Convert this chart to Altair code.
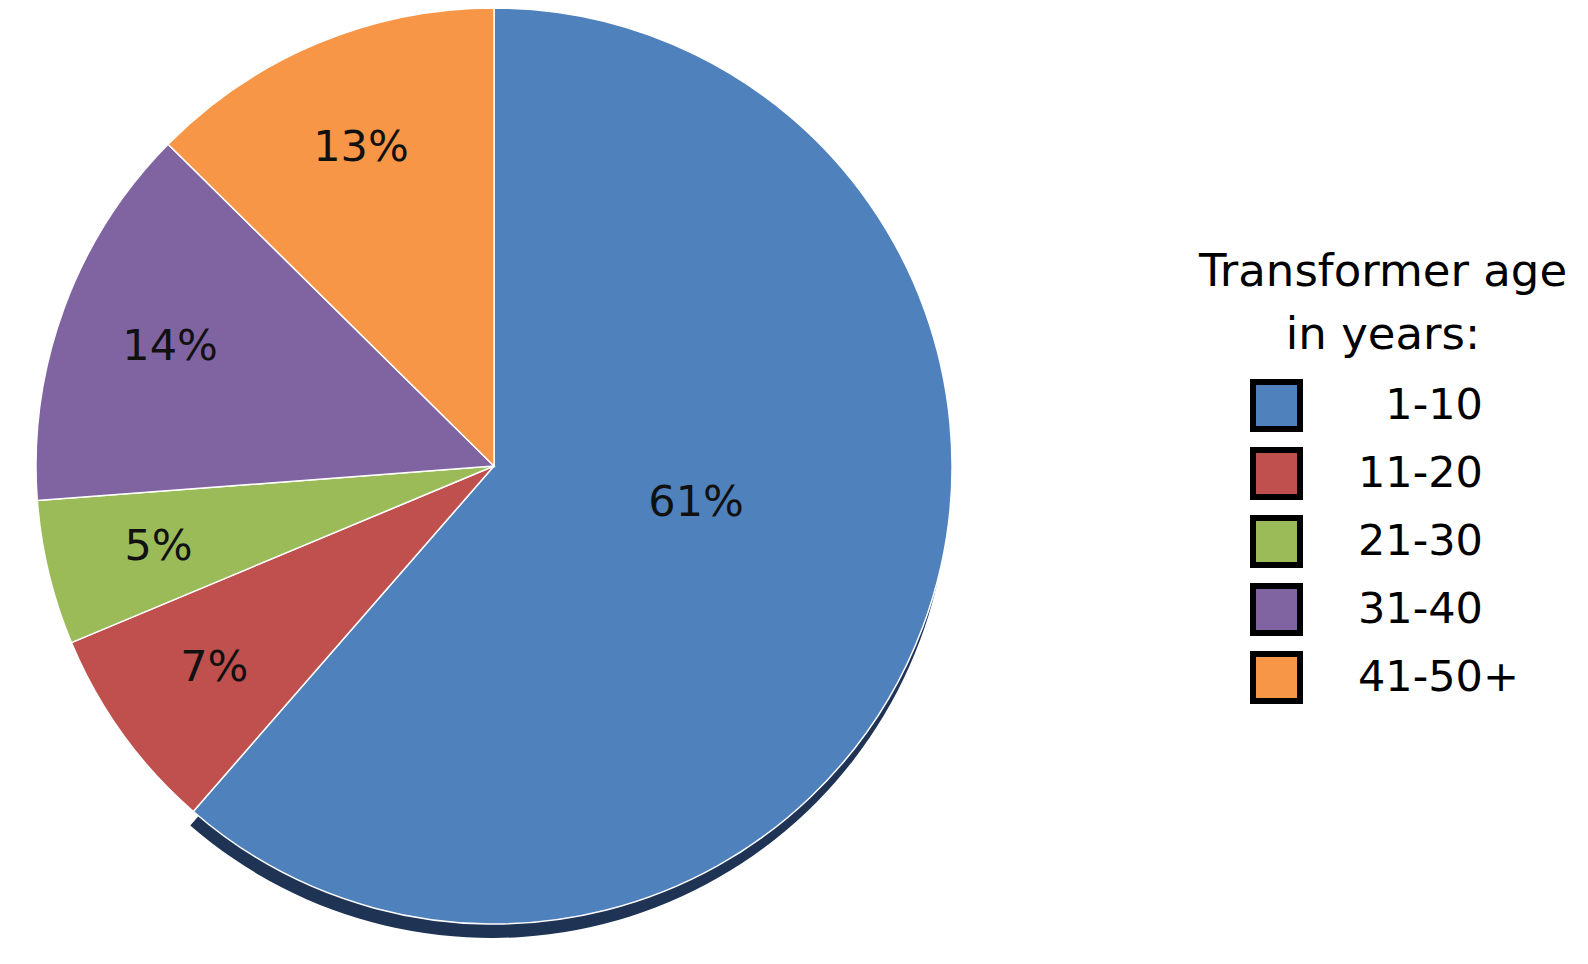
import altair as alt
import pandas as pd

ages = ["1-10", "11-20", "21-30", "31-40", "41-50+"]
shares = [61.4, 7.3, 5.1, 13.6, 12.6]
pct_labels = ["61%", "7%", "5%", "14%", "13%"]
colors = ["#4F81BD", "#C0504D", "#9BBB59", "#8064A2", "#F79646"]
title_lines = ["Transformer age", "in years:"]

df = pd.DataFrame({"age": ages, "share": shares, "label": pct_labels,
                   "order": list(range(len(ages)))})

CX, CY, R = 486, 458, 458
FONT = "DejaVu Sans"

base = alt.Chart(df).encode(
    theta=alt.Theta("share:Q", stack=True),
    order=alt.Order("order:Q"),
)

color = alt.Color(
    "age:N",
    scale=alt.Scale(domain=ages, range=colors),
    sort=ages,
    legend=alt.Legend(
        title=None,
        orient="none",
        legendX=1242,
        legendY=371,
        symbolType="square",
        symbolSize=2209,
        symbolStrokeColor="black",
        symbolStrokeWidth=6,
        symbolOpacity=1,
        labelFont=FONT,
        labelFontSize=43,
        labelColor="black",
        labelAlign="left",
        labelLimit=500,
        rowPadding=-3,
        labelOffset=55,
        labelExpr="(datum.value == '1-10' || datum.label == '1-10') ? '\u200b\u00a0\u00a0' + datum.label : datum.label",
    ),
)

shadow = base.mark_arc(radius=R, fill="#1F3455").encode(
    x=alt.value(CX - 3),
    y=alt.value(CY + 14),
    opacity=alt.condition(alt.datum.age == "1-10", alt.value(1), alt.value(0)),
)

pie = base.mark_arc(radius=R, stroke="white", strokeWidth=1.5).encode(
    x=alt.value(CX),
    y=alt.value(CY),
    color=color,
)

labels_small = base.mark_text(radius=345, font=FONT, fontSize=43, color="#111111").encode(
    x=alt.value(CX),
    y=alt.value(CY),
    text="label:N",
    opacity=alt.condition(alt.datum.age == "1-10", alt.value(0), alt.value(1)),
)

labels_big = base.mark_text(radius=203, dx=12, dy=-34, font=FONT, fontSize=43, color="#111111").encode(
    x=alt.value(CX),
    y=alt.value(CY),
    text="label:N",
    opacity=alt.condition(alt.datum.age == "1-10", alt.value(1), alt.value(0)),
)

title = alt.Chart(pd.DataFrame({"t": [0]})).mark_text(
    text=title_lines, font=FONT, fontSize=45, lineHeight=63,
    align="center", baseline="alphabetic", color="black",
).encode(x=alt.value(1375), y=alt.value(278))

chart = alt.layer(shadow, pie, labels_small, labels_big, title).properties(
    width=1572, height=948, padding=0,
    autosize=alt.AutoSizeParams(type="none"),
).configure_view(strokeWidth=0)

chart.save("out.html", embed_options={"renderer": "svg", "actions": False})
